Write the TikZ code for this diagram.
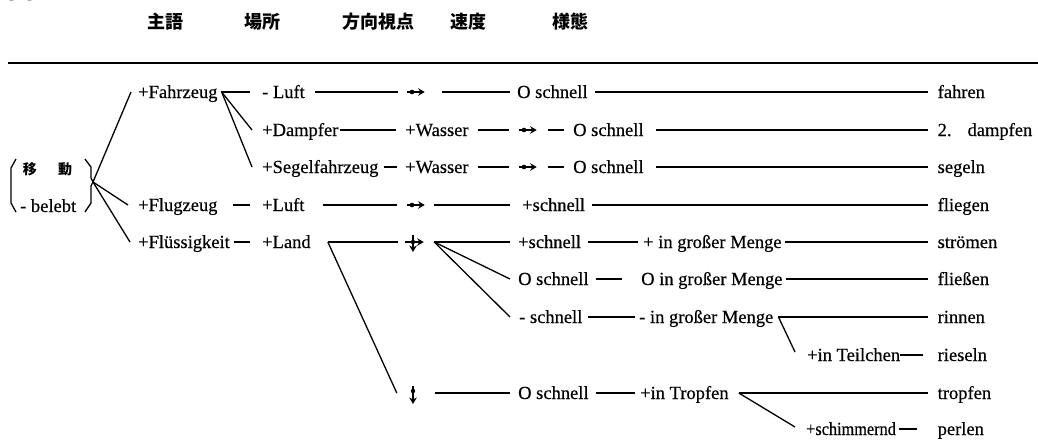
\documentclass[tikz,border=0pt]{standalone}
\usepackage{fontspec}
\setmainfont{Liberation Serif}
\newfontfamily\cjk{Noto Sans CJK JP}
\newfontfamily\txtfont[FakeBold=0.4]{Liberation Serif}
\usetikzlibrary{arrows.meta}
\tikzset{
  txt/.style={inner sep=0pt, anchor=west, text height=15pt, text depth=3pt, font=\txtfont\fontsize{18.5}{20}\selectfont},
  hd/.style={inner sep=0pt, font=\cjk\bfseries\fontsize{18}{20}\selectfont},
  kj/.style={inner sep=0pt, font=\cjk\bfseries\fontsize{14}{16}\selectfont},
  conn/.style={line width=1.3pt},
  rule/.style={line width=2pt},
  sym/.style={inner sep=0pt, minimum width=18pt, minimum height=18pt},
  arrowsym/.style={-{Stealth[length=6.5pt,width=7.5pt]}, line width=1.5pt},
}
\newcommand\edgeh[4]{\draw[conn] ([xshift=#2pt]#1.east) -- ([xshift=-#4pt]#3.west);}
\newcommand\rdot[1]{\draw[arrowsym] ([xshift=1pt]#1.west) -- ([xshift=0.5pt]#1.east);
  \fill ([xshift=-3pt]#1.center) circle (2.3pt);}
\begin{document}
\begin{tikzpicture}[x=1pt,y=-1pt]
\useasboundingbox (0,0) rectangle (1038,440);
% figure label (cut off at the top, as in the reference)
\node[anchor=base west, inner sep=0pt, font=\cjk\bfseries\fontsize{25}{25}\selectfont] (fig) at (8,-2) {図 5};
% header
\node[hd] (h1) at (165,22) {主語};
\node[hd] (h2) at (262,22) {場所};
\node[hd] (h3) at (378,22) {方向視点};
\node[hd] (h4) at (468,22) {速度};
\node[hd] (h5) at (570,22) {様態};
\coordinate (rl) at (8,63);
\coordinate (rr) at (1038,63);
\draw[rule] (rl) -- (rr);
% left bracketed group
\node[kj] (m1a) at (30,169) {移};
\node[kj] (m1b) at (65,169) {動};
\node[txt] (m2) at (20,206) {- belebt};
\coordinate (ap) at (93,182);
\draw[conn] (16,159) -- (11,168) -- (11,203) -- (16,212);
\draw[conn] (85,159) -- (91,167) -- (91,178) -- (ap) -- (91,186) -- (91,203) -- (85,212);
% column 1
\node[txt] (Fz) at (138,92) {+Fahrzeug};
\node[txt] (Fl) at (138,205) {+Flugzeug};
\node[txt] (Fk) at (138,242) {+Flüssigkeit};
% column 2
\node[txt] (Lu1) at (262,92) {- Luft};
\node[txt] (Dp) at (262,130) {+Dampfer};
\node[txt] (Sg) at (262,167) {+Segelfahrzeug};
\node[txt] (Lu2) at (262,205) {+Luft};
\node[txt] (Ld) at (262,242) {+Land};
% column 3
\node[sym] (A1) at (415,92) {};
\node[txt] (W1) at (405,130) {+Wasser};
\node[txt] (W2) at (405,167) {+Wasser};
\node[sym] (A4) at (415,205) {};
\node[sym] (A5) at (414,242) {};
\node[sym] (A9) at (413,393) {};
\node[sym] (A2) at (527,130) {};
\node[sym] (A3) at (527,167) {};
\rdot{A1}
\rdot{A2}
\rdot{A3}
\rdot{A4}
\draw[arrowsym] ([xshift=0.5pt]A5.west) -- ([xshift=0.5pt]A5.east);
\draw[arrowsym] ([xshift=-1pt,yshift=7pt]A5.center) -- ([xshift=-1pt,yshift=-10pt]A5.center);
\fill ([xshift=-1pt]A5.center) circle (2.2pt);
\draw[arrowsym] ([yshift=7pt]A9.center) -- ([yshift=-11pt]A9.center);
\fill ([yshift=2pt]A9.center) circle (2.2pt);
% speed column
\node[txt] (OS1) at (517,92) {O schnell};
\node[txt] (OS2) at (573,130) {O schnell};
\node[txt] (OS3) at (573,167) {O schnell};
\node[txt] (S4) at (522,205) {+schnell};
\node[txt] (S5) at (518,242) {+schnell};
\node[txt] (S6) at (518,279) {O schnell};
\node[txt] (S7) at (519,317) {- schnell};
\node[txt] (S9) at (518,393) {O schnell};
% manner column
\node[txt] (M5) at (643,242) {+ in großer Menge};
\node[txt] (M6) at (641,279) {O in großer Menge};
\node[txt] (M7) at (639,317) {- in großer Menge};
\node[txt] (Tc) at (807,355) {+in Teilchen};
\node[txt] (Tr) at (640,393) {+in Tropfen};
\node[txt] (Sm) at (806,429) {\scalebox{0.88}[1]{+schimmernd}};
% verbs
\node[txt] (fahren) at (937.5,92) {fahren};
\node[txt] (dampfen) at (937.5,130) {2.\hspace{16pt}dampfen};
\node[txt] (segeln) at (937.5,167) {segeln};
\node[txt] (fliegen) at (937.5,205) {fliegen};
\node[txt] (stroemen) at (937.5,242) {strömen};
\node[txt] (fliessen) at (937.5,279) {fließen};
\node[txt] (rinnen) at (937.5,317) {rinnen};
\node[txt] (rieseln) at (937.5,355) {rieseln};
\node[txt] (tropfen) at (937.5,393) {tropfen};
\node[txt] (perlen) at (937.5,429) {perlen};
% connectors from the bracket
\draw[conn] (ap) -- ([xshift=-7pt]Fz.west);
\draw[conn] (ap) -- ([xshift=-10pt]Fl.west);
\draw[conn] (ap) -- ([xshift=-8pt]Fk.west);
% row 1
\edgeh{Fz}{3}{Lu1}{12}
\edgeh{Lu1}{10}{A1}{8}
\edgeh{A1}{18}{OS1}{7}
\edgeh{OS1}{7}{fahren}{10}
\draw[conn] ([xshift=4pt]Fz.east) -- ([xshift=-10pt]Dp.west);
\draw[conn] ([xshift=4pt]Fz.east) -- ([xshift=-10pt]Sg.west);
% row 2
\edgeh{Dp}{1}{W1}{9}
\edgeh{W1}{9}{A2}{9}
\edgeh{A2}{12}{OS2}{9}
\edgeh{OS2}{12}{dampfen}{10}
% row 3
\edgeh{Sg}{5}{W2}{8}
\edgeh{W2}{9}{A3}{9}
\edgeh{A3}{12}{OS3}{9}
\edgeh{OS3}{12}{segeln}{10}
% row 4
\edgeh{Fl}{15}{Lu2}{12}
\edgeh{Lu2}{18}{A4}{9}
\edgeh{A4}{10}{S4}{12}
\edgeh{S4}{7}{fliegen}{10}
% row 5
\edgeh{Fk}{4}{Ld}{12}
\edgeh{Ld}{17}{A5}{7}
\draw[conn] ([xshift=17pt]Ld.east) -- ([xshift=-7pt]A9.west);
\draw[conn] ([xshift=11pt]A5.east) -- ([xshift=-8pt]S5.west);
\draw[conn] ([xshift=11pt]A5.east) -- ([xshift=-8pt]S6.west);
\draw[conn] ([xshift=11pt]A5.east) -- ([xshift=-9pt]S7.west);
\edgeh{S5}{7}{M5}{5}
\edgeh{M5}{3}{stroemen}{10}
% row 6
\edgeh{S6}{7}{M6}{19}
\edgeh{M6}{3}{fliessen}{10}
% row 7
\edgeh{S7}{5}{M7}{4}
\edgeh{M7}{5}{rinnen}{10}
\draw[conn] ([xshift=5pt]M7.east) -- ([xshift=-12pt,yshift=3pt]Tc.west);
% row 8
\edgeh{Tc}{0}{rieseln}{15}
% row 9
\edgeh{A9}{13}{S9}{8}
\edgeh{S9}{7}{Tr}{5}
\edgeh{Tr}{10}{tropfen}{10}
\draw[conn] ([xshift=10pt]Tr.east) -- ([xshift=-11pt,yshift=2pt]Sm.west);
% row 10
\edgeh{Sm}{3}{perlen}{21}
\end{tikzpicture}
\end{document}
